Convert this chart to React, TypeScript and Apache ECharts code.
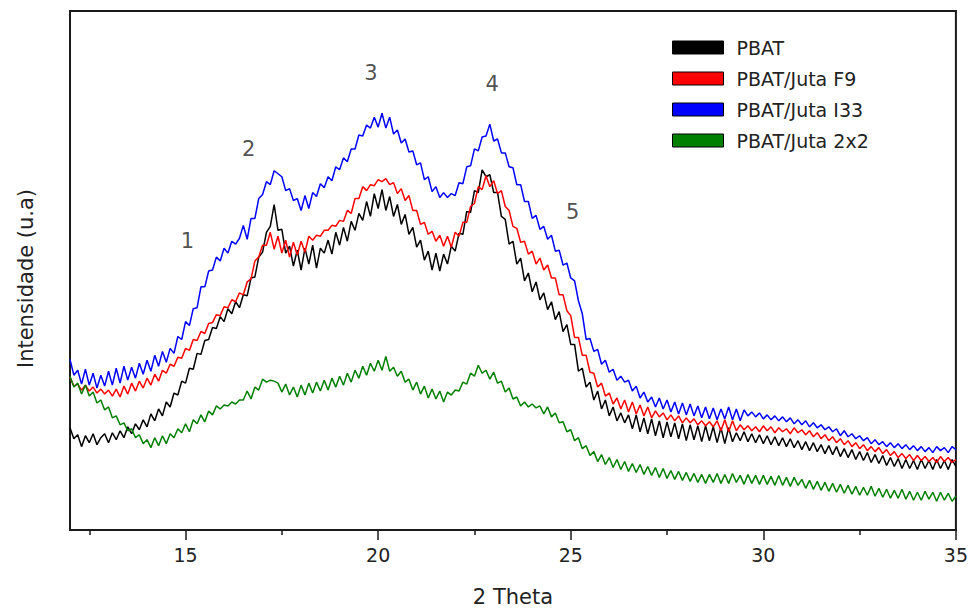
import React, { useEffect, useRef } from "react";
import * as echarts from "echarts";

// Diffraction scan grid (2θ, degrees)
const THETA_START = 12;
const THETA_STEP = 0.1;

// Intensities (a.u.), one value per grid step, 12.0° … 35.0°
const pbat = [
  103, 92, 96, 84, 95, 88, 97, 86, 93, 97,
  88, 98, 91, 100, 93, 104, 97, 107, 101, 111,
  104, 117, 110, 122, 115, 129, 124, 138, 136, 150,
  148, 163, 162, 178, 177, 191, 192, 204, 203, 215,
  210, 223, 218, 230, 224, 237, 236, 254, 255, 275,
  280, 300, 306, 328, 302, 303, 279, 286, 266, 282,
  262, 284, 268, 287, 264, 284, 279, 292, 278, 300,
  287, 305, 291, 311, 302, 319, 312, 331, 316, 339,
  324, 343, 322, 336, 316, 328, 308, 318, 298, 305,
  285, 292, 272, 281, 262, 279, 261, 278, 268, 286,
  281, 299, 298, 321, 320, 342, 340, 363, 356, 358,
  340, 340, 316, 313, 288, 291, 268, 274, 251, 259,
  240, 250, 232, 239, 222, 230, 212, 220, 200, 207,
  187, 187, 160, 163, 144, 149, 131, 140, 122, 131,
  115, 124, 110, 118, 108, 116, 102, 116, 99, 113,
  97, 112, 95, 110, 93, 109, 94, 108, 92, 107,
  90, 106, 91, 105, 89, 105, 90, 104, 88, 103,
  87, 103, 89, 98, 90, 99, 89, 97, 88, 96,
  87, 95, 86, 94, 85, 93, 84, 92, 83, 90,
  81, 89, 80, 88, 79, 86, 77, 85, 76, 84,
  74, 82, 73, 81, 71, 79, 70, 78, 68, 76,
  67, 75, 65, 73, 64, 72, 62, 71, 62, 70,
  61, 71, 62, 70, 61, 71, 62, 70, 61, 71,
  64,
];

const jutaF9 = [
  154, 145, 147, 141, 146, 140, 144, 138, 142, 137,
  141, 135, 142, 134, 145, 137, 148, 140, 150, 143,
  153, 146, 157, 150, 161, 158, 167, 165, 174, 173,
  183, 181, 192, 191, 200, 198, 208, 209, 217, 216,
  225, 224, 232, 230, 239, 237, 250, 253, 271, 275,
  287, 287, 300, 283, 296, 279, 292, 275, 290, 277,
  291, 280, 296, 292, 297, 296, 302, 302, 307, 306,
  312, 311, 322, 319, 334, 334, 346, 342, 348, 347,
  353, 351, 354, 348, 350, 339, 344, 332, 337, 322,
  322, 308, 310, 298, 301, 291, 297, 286, 296, 285,
  300, 296, 310, 310, 326, 329, 346, 343, 357, 346,
  352, 339, 342, 326, 322, 306, 304, 290, 291, 278,
  281, 268, 274, 262, 267, 254, 254, 237, 237, 221,
  216, 194, 194, 176, 176, 159, 158, 144, 148, 135,
  138, 127, 133, 122, 131, 119, 129, 117, 126, 115,
  124, 113, 120, 114, 118, 111, 116, 110, 115, 108,
  113, 108, 112, 106, 110, 105, 109, 104, 110, 100,
  111, 99, 110, 100, 106, 101, 105, 100, 104, 99,
  105, 100, 104, 98, 103, 99, 102, 97, 103, 98,
  101, 96, 100, 94, 98, 92, 96, 90, 94, 88,
  92, 86, 90, 84, 88, 82, 86, 80, 84, 79,
  83, 77, 81, 75, 79, 73, 77, 72, 76, 70,
  75, 70, 74, 69, 73, 68, 74, 69, 73, 68,
  71,
];

const jutaI33 = [
  172, 156, 161, 147, 162, 146, 158, 143, 156, 145,
  160, 146, 163, 148, 165, 151, 164, 153, 168, 157,
  171, 160, 176, 165, 180, 169, 183, 178, 195, 192,
  210, 206, 223, 224, 245, 245, 261, 262, 275, 271,
  284, 279, 291, 288, 294, 307, 293, 314, 314, 334,
  338, 351, 348, 362, 359, 356, 342, 344, 332, 334,
  322, 337, 324, 340, 336, 349, 345, 356, 352, 366,
  363, 375, 371, 384, 384, 398, 397, 408, 405, 416,
  406, 420, 405, 416, 399, 403, 390, 394, 381, 382,
  368, 370, 353, 356, 341, 346, 335, 340, 335, 339,
  337, 350, 349, 366, 367, 384, 382, 396, 397, 409,
  392, 394, 380, 380, 366, 365, 348, 348, 331, 331,
  314, 317, 303, 306, 293, 297, 281, 282, 267, 269,
  254, 251, 231, 218, 192, 193, 180, 182, 167, 171,
  159, 162, 151, 155, 149, 151, 140, 145, 133, 139,
  129, 134, 124, 133, 122, 131, 119, 129, 117, 128,
  116, 127, 115, 125, 113, 124, 112, 123, 111, 122,
  112, 124, 111, 122, 110, 121, 115, 119, 114, 118,
  112, 116, 111, 115, 110, 114, 109, 113, 107, 111,
  106, 110, 104, 108, 103, 106, 101, 104, 99, 102,
  95, 100, 94, 97, 92, 95, 90, 93, 87, 91,
  86, 89, 84, 88, 83, 87, 82, 86, 81, 85,
  80, 84, 79, 83, 78, 84, 80, 83, 78, 84,
  81,
];

const juta2x2 = [
  155, 144, 148, 137, 146, 135, 139, 128, 131, 121,
  124, 113, 115, 106, 108, 100, 102, 93, 96, 87,
  91, 83, 93, 85, 95, 87, 97, 93, 102, 98,
  107, 99, 111, 107, 116, 109, 120, 116, 125, 122,
  126, 125, 129, 127, 131, 131, 140, 132, 144, 141,
  152, 149, 151, 150, 148, 139, 147, 136, 144, 134,
  146, 136, 148, 138, 149, 140, 151, 141, 153, 144,
  155, 146, 158, 149, 161, 153, 165, 156, 168, 160,
  171, 161, 175, 160, 164, 155, 160, 149, 152, 141,
  149, 137, 145, 133, 142, 132, 140, 129, 139, 136,
  141, 140, 149, 147, 158, 155, 166, 158, 161, 152,
  159, 148, 150, 139, 143, 132, 134, 125, 129, 124,
  127, 123, 125, 117, 124, 114, 118, 108, 109, 99,
  101, 90, 93, 82, 85, 75, 79, 69, 76, 66,
  73, 63, 71, 61, 69, 59, 67, 58, 66, 56,
  64, 55, 63, 53, 62, 52, 60, 51, 59, 50,
  58, 49, 57, 48, 56, 47, 56, 48, 57, 47,
  56, 47, 57, 48, 55, 46, 56, 47, 55, 46,
  55, 46, 54, 45, 55, 45, 53, 44, 53, 45,
  51, 42, 50, 41, 49, 40, 48, 39, 47, 38,
  46, 37, 45, 36, 44, 35, 43, 35, 44, 34,
  42, 33, 41, 32, 40, 32, 41, 31, 39, 30,
  38, 30, 39, 31, 38, 29, 38, 30, 37, 29,
  34,
];

const seriesNames = ["PBAT", "PBAT/Juta F9", "PBAT/Juta I33", "PBAT/Juta 2x2"];
const seriesColors = ["#000000", "#ff0000", "#0000ff", "#008000"];

// Reflection markers (numbered peaks) in data coordinates
const peakTags = ["1", "2", "3", "4", "5"];
const peakTheta = [15.05, 16.64, 19.81, 22.96, 25.05];
const peakLevel = [291, 384, 461, 449, 320];

const majorTicks = [15, 20, 25, 30, 35];
const minorTicks = [12.5, 17.5, 22.5, 27.5, 32.5];

const FONT = "DejaVu Sans";
const INK = "#222222";

const toPairs = (vals: number[]) =>
  vals.map((v, i) => [Number((THETA_START + i * THETA_STEP).toFixed(2)), v]);

export default function App() {
  const ref = useRef<HTMLDivElement>(null);

  useEffect(() => {
    if (!ref.current) return;
    const chart = echarts.init(ref.current, undefined, { renderer: "svg" });
    const curves = [pbat, jutaF9, jutaI33, juta2x2];

    chart.setOption({
      animation: false,
      backgroundColor: "#ffffff",
      textStyle: { fontFamily: FONT },
      grid: {
        left: 70,
        right: 15,
        top: 11,
        bottom: 78,
        show: true,
        borderColor: "#1a1a1a",
        borderWidth: 2,
        backgroundColor: "transparent",
      },
      legend: {
        data: seriesNames,
        orient: "vertical",
        left: 667,
        top: 33,
        itemWidth: 51,
        itemHeight: 13,
        itemGap: 12,
        icon: "rect",
        selectedMode: false,
        itemStyle: { borderColor: "#000", borderWidth: 1 },
        textStyle: {
          fontFamily: FONT,
          fontSize: 19,
          color: INK,
          padding: [0, 0, 0, 8],
        },
      },
      xAxis: [
        {
          type: "value",
          min: THETA_START,
          max: 35,
          name: "2 Theta",
          nameLocation: "middle",
          nameGap: 56,
          nameTextStyle: { fontFamily: FONT, fontSize: 21, color: INK },
          axisLine: { show: true, lineStyle: { color: "#1a1a1a", width: 2 } },
          axisTick: {
            show: true,
            customValues: majorTicks,
            length: 10,
            lineStyle: { color: "#1a1a1a", width: 1.5 },
          },
          axisLabel: {
            customValues: majorTicks,
            margin: 15,
            fontFamily: FONT,
            fontSize: 19,
            color: INK,
          },
          splitLine: { show: false },
        },
        {
          type: "value",
          min: THETA_START,
          max: 35,
          position: "bottom",
          axisLine: { show: false },
          axisTick: {
            show: true,
            customValues: minorTicks,
            length: 5,
            lineStyle: { color: "#1a1a1a", width: 1.5 },
          },
          axisLabel: { show: false },
          splitLine: { show: false },
        },
      ],
      yAxis: {
        type: "value",
        min: 0,
        max: 523,
        name: "Intensidade (u.a)",
        nameLocation: "middle",
        nameGap: 34,
        nameTextStyle: {
          fontFamily: FONT,
          fontSize: 21,
          color: INK,
          padding: [0, 16, 0, 0],
        },
        axisLine: { show: true, lineStyle: { color: "#1a1a1a", width: 2 } },
        axisTick: { show: false },
        axisLabel: { show: false },
        splitLine: { show: false },
      },
      series: [
        ...curves.map((vals, k) => ({
          name: seriesNames[k],
          type: "line",
          data: toPairs(vals),
          showSymbol: false,
          symbol: "none",
          color: seriesColors[k],
          itemStyle: { color: seriesColors[k] },
          lineStyle: { color: seriesColors[k], width: 1.5 },
          silent: true,
        })),
        {
          name: "peaks",
          type: "scatter",
          symbolSize: 0,
          silent: true,
          data: peakTags.map((t, i) => ({ name: t, value: [peakTheta[i], peakLevel[i]] })),
          label: {
            show: true,
            position: "inside",
            formatter: "{b}",
            fontFamily: FONT,
            fontSize: 21,
            color: INK,
          },
        },
      ],
    });

    return () => chart.dispose();
  }, []);

  return (
    <div
      ref={ref}
      style={{ position: "fixed", left: 0, top: 0, width: 971, height: 612, background: "#fff" }}
    />
  );
}
